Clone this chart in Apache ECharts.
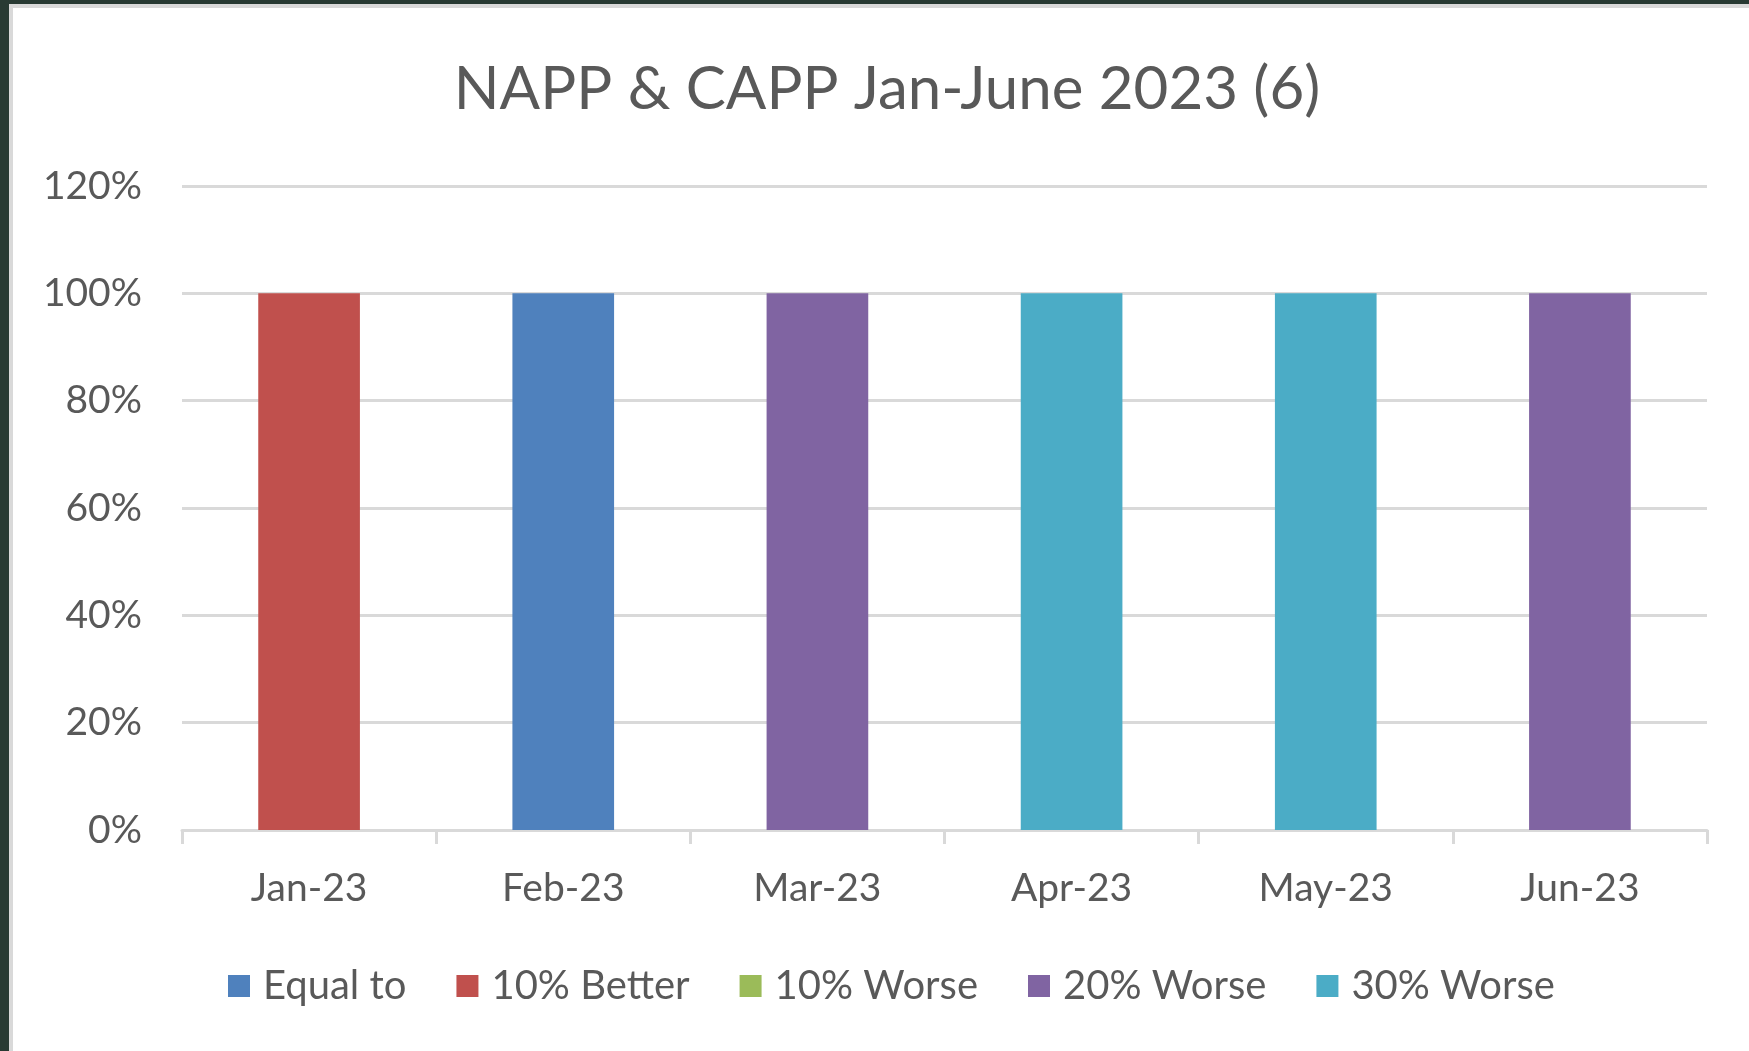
<!DOCTYPE html>
<html>
<head>
<meta charset="utf-8">
<script src="https://cdn.jsdelivr.net/npm/echarts@6/dist/echarts.min.js"></script>
<style>
  html, body { margin: 0; padding: 0; background: #ffffff; }
  #chart { width: 1749px; height: 1051px; }
</style>
</head>
<body>
<div id="chart"></div>
<script>
// data
var categories = ["Jan-23", "Feb-23", "Mar-23", "Apr-23", "May-23", "Jun-23"];
var seriesNames = ["Equal to", "10% Better", "10% Worse", "20% Worse", "30% Worse"];
var equalTo = [0, 1, 0, 0, 0, 0];
var better10 = [1, 0, 0, 0, 0, 0];
var worse10 = [0, 0, 0, 0, 0, 0];
var worse20 = [0, 0, 1, 0, 0, 1];
var worse30 = [0, 0, 0, 1, 1, 0];
var yTicks = [0, 0.2, 0.4, 0.6, 0.8, 1.0, 1.2];

var colors = ["#4F81BD", "#C0504D", "#9BBB59", "#8064A2", "#4BACC6"];
var seriesData = [equalTo, better10, worse10, worse20, worse30];
var textColor = "#595959";
var font = "Lato, 'Open Sans', sans-serif";

var dom = document.getElementById("chart");
var myChart = echarts.init(dom);

var series = seriesNames.map(function (name, i) {
    return {
        name: name,
        type: "bar",
        stack: "total",
        barWidth: "40%",
        data: seriesData[i],
        itemStyle: { color: colors[i] }
    };
});

var option = {
    backgroundColor: "#ffffff",
    animation: false,
    color: colors,
    graphic: [
        { type: "rect", shape: { x: 0, y: 0, width: 9, height: 1051 }, style: { fill: "#283a33" } },
        { type: "rect", shape: { x: 0, y: 0, width: 1749, height: 4 }, style: { fill: "#283a33" } },
        { type: "rect", shape: { x: 9, y: 4, width: 4, height: 1047 }, style: { fill: "#d9d9d9" } },
        { type: "rect", shape: { x: 9, y: 4, width: 1740, height: 4 }, style: { fill: "#d9d9d9" } }
    ],
    title: {
        text: "NAPP & CAPP Jan-June 2023 (6)",
        left: 882,
        textAlign: "center",
        top: 55,
        textStyle: {
            color: textColor,
            fontFamily: font,
            fontSize: 60,
            fontWeight: "normal"
        }
    },
    legend: {
        data: seriesNames,
        left: 223,
        top: 961,
        itemWidth: 22,
        itemHeight: 22,
        itemGap: 50,
        icon: "rect",
        textStyle: {
            color: textColor,
            fontFamily: font,
            fontSize: 40,
            padding: [0, 0, 0, 8]
        }
    },
    grid: {
        left: 182,
        right: 42,
        top: 186,
        bottom: 221,
        containLabel: false
    },
    xAxis: {
        type: "category",
        data: categories,
        axisLine: { lineStyle: { color: "#d9d9d9", width: 3 } },
        axisTick: { show: true, length: 14, lineStyle: { color: "#d9d9d9", width: 3 } },
        axisLabel: {
            color: textColor,
            fontFamily: font,
            fontSize: 39,
            margin: 39
        }
    },
    yAxis: {
        type: "value",
        min: yTicks[0],
        max: yTicks[yTicks.length - 1],
        interval: 0.2,
        axisLine: { show: false },
        axisTick: { show: false },
        splitLine: { lineStyle: { color: "#d9d9d9", width: 3 } },
        axisLabel: {
            color: textColor,
            fontFamily: font,
            fontSize: 39,
            margin: 40,
            formatter: function (v) { return Math.round(v * 100) + "%"; }
        }
    },
    series: series
};

option && "object" == typeof option && myChart.setOption(option, true);
</script>
</body>
</html>
